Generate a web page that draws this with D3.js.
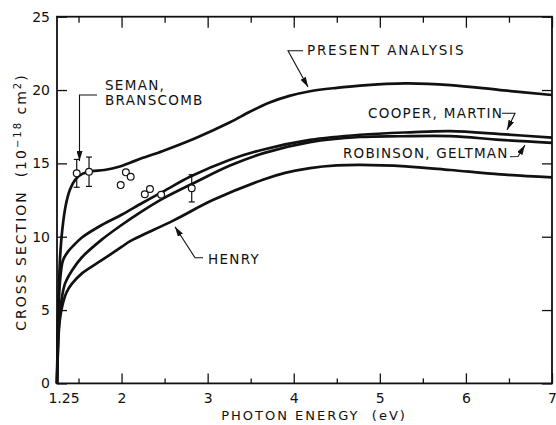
<!DOCTYPE html>
<html>
<head>
<meta charset="utf-8">
<script src="https://cdn.jsdelivr.net/npm/d3@7"></script>
<style>
  body { margin: 0; background: #fff; }
  svg { font-family: "DejaVu Sans", sans-serif; }
  text { fill: #111; }
</style>
</head>
<body>
<svg id="chart" width="556" height="425"></svg>
<script>
// photodetachment cross section curves, [photon energy eV, cross section 1e-18 cm2]
const presentAnalysis = [
    [1.25, 0], [1.258, 3], [1.27, 6], [1.285, 8.5], [1.31, 10.4], [1.35, 12.1],
    [1.40, 13.2], [1.47, 13.95], [1.55, 14.3], [1.65, 14.45], [1.8, 14.55],
    [1.97, 14.77], [2.1, 15.05], [2.24, 15.36], [2.48, 15.85], [2.87, 16.75],
    [3.26, 17.8], [3.5, 18.55], [3.72, 19.15], [3.95, 19.6], [4.19, 19.92],
    [4.5, 20.15], [4.77, 20.3], [5.3, 20.45], [5.82, 20.34], [6.4, 20.0], [7, 19.66]
];
const cooperMartin = [
    [1.25, 0], [1.258, 3], [1.27, 5.5], [1.29, 7.3], [1.32, 8.4], [1.38, 9.0],
    [1.45, 9.45], [1.54, 9.95], [1.77, 10.8], [2.0, 11.5], [2.24, 12.3],
    [2.48, 13.07], [2.8, 14.1], [3.26, 15.25], [3.65, 15.95], [4.19, 16.6],
    [4.77, 16.95], [5.35, 17.12], [5.82, 17.2], [6.4, 17.0], [7, 16.75]
];
const robinsonGeltman = [
    [1.25, 0], [1.262, 2.5], [1.275, 4.2], [1.3, 5.6], [1.343, 6.8], [1.424, 7.7],
    [1.54, 8.6], [1.77, 9.8], [2.0, 10.8], [2.24, 11.75], [2.48, 12.6],
    [2.87, 13.75], [3.26, 14.85], [3.65, 15.7], [4.19, 16.45], [4.77, 16.8],
    [5.23, 16.85], [5.82, 16.86], [6.4, 16.6], [7, 16.4]
];
const henry = [
    [1.25, 0], [1.262, 2.5], [1.28, 4.2], [1.308, 5.2], [1.36, 6.2], [1.424, 6.8],
    [1.54, 7.5], [1.77, 8.4], [2.0, 9.3], [2.1, 9.7], [2.6, 11.1], [3.06, 12.5],
    [3.65, 13.9], [3.9, 14.35], [4.19, 14.68], [4.5, 14.86], [4.77, 14.9],
    [5.3, 14.8], [5.82, 14.55], [6.4, 14.25], [7, 14.05]
];

// Seman & Branscomb measurements: [E, sigma, error or 0]
const semanBranscomb = [
    [1.479, 14.32, 0.95], [1.622, 14.43, 1.0], [2.05, 14.39, 0], [2.106, 14.09, 0],
    [1.99, 13.52, 0], [2.27, 12.9, 0], [2.33, 13.25, 0], [2.46, 12.86, 0],
    [2.815, 13.3, 0.93]
];

const xMajor = [2, 3, 4, 5, 6, 7];
const xMinor = [1.5, 2.5, 3.5, 4.5, 5.5, 6.5];
const yTicks = [0, 5, 10, 15, 20, 25];

const svg = d3.select('#chart');
const plotLeft = 57, plotRight = 552, plotTop = 16.7, plotBottom = 383.4;

const x = d3.scaleLinear().domain([1.25, 7]).range([plotLeft, plotRight]);
const y = d3.scaleLinear().domain([0, 25]).range([plotBottom, plotTop]);

// frame
svg.append('rect')
    .attr('x', plotLeft).attr('y', plotTop)
    .attr('width', plotRight - plotLeft).attr('height', plotBottom - plotTop)
    .attr('fill', 'none').attr('stroke', '#111').attr('stroke-width', 1.8);

function styleAxis(g) {
    g.select('.domain').remove();
    g.selectAll('line').attr('stroke', '#111').attr('stroke-width', 1.3);
    g.selectAll('text').attr('font-size', 14).attr('fill', '#111')
        .attr('font-family', '"DejaVu Sans", sans-serif');
}

// bottom axis
svg.append('g').attr('transform', `translate(0,${plotBottom})`)
    .call(d3.axisBottom(x).tickValues(xMajor).tickSize(-10).tickPadding(10).tickFormat(d3.format('d')))
    .call(styleAxis);
svg.append('g').attr('transform', `translate(0,${plotBottom})`)
    .call(d3.axisBottom(x).tickValues(xMinor).tickSize(-5).tickFormat(''))
    .call(styleAxis);
svg.append('text')
    .attr('x', x(1.25) + 7).attr('y', plotBottom + 20)
    .attr('text-anchor', 'middle').attr('font-size', 14)
    .text('1.25');

// top axis
svg.append('g').attr('transform', `translate(0,${plotTop})`)
    .call(d3.axisTop(x).tickValues(xMajor).tickSize(-11).tickFormat(''))
    .call(styleAxis);
svg.append('g').attr('transform', `translate(0,${plotTop})`)
    .call(d3.axisTop(x).tickValues(xMinor).tickSize(-6).tickFormat(''))
    .call(styleAxis);

// left / right axes
svg.append('g').attr('transform', `translate(${plotLeft},0)`)
    .call(d3.axisLeft(y).tickValues(yTicks).tickSize(-10).tickPadding(7))
    .call(styleAxis);
svg.append('g').attr('transform', `translate(${plotRight},0)`)
    .call(d3.axisRight(y).tickValues(yTicks).tickSize(-10).tickFormat(''))
    .call(styleAxis);

// axis titles
svg.append('text')
    .attr('x', 314).attr('y', 420)
    .attr('text-anchor', 'middle').attr('font-size', 13)
    .attr('letter-spacing', 2)
    .attr('xml:space', 'preserve')
    .text('PHOTON ENERGY  (eV)');

const yTitle = svg.append('text')
    .attr('transform', 'translate(26,202) rotate(-90)')
    .attr('text-anchor', 'middle').attr('font-size', 14)
    .attr('letter-spacing', 2)
    .attr('xml:space', 'preserve');
yTitle.append('tspan').text('CROSS SECTION  (10');
yTitle.append('tspan').attr('font-size', 10).attr('dy', -5).text('−18');
yTitle.append('tspan').attr('dy', 5).text(' cm');
yTitle.append('tspan').attr('font-size', 10).attr('dy', -5).text('2');
yTitle.append('tspan').attr('dy', 5).text(')');

// curves
const line = d3.line()
    .x(d => x(d[0]))
    .y(d => y(d[1]))
    .curve(d3.curveCatmullRom.alpha(0.5));

[presentAnalysis, cooperMartin, robinsonGeltman, henry].forEach(series => {
    svg.append('path')
        .datum(series)
        .attr('d', line)
        .attr('fill', 'none')
        .attr('stroke', '#111')
        .attr('stroke-width', 2.7)
        .attr('stroke-linejoin', 'round');
});

// measured points with error bars
const pts = svg.append('g');
semanBranscomb.filter(d => d[2] > 0).forEach(d => {
    const cx = x(d[0]);
    const yTop = y(d[1] + d[2]), yBot = y(d[1] - d[2]);
    pts.append('line').attr('x1', cx).attr('x2', cx).attr('y1', yTop).attr('y2', yBot)
        .attr('stroke', '#111').attr('stroke-width', 1.2);
    [yTop, yBot].forEach(yy => {
        pts.append('line').attr('x1', cx - 3).attr('x2', cx + 3).attr('y1', yy).attr('y2', yy)
            .attr('stroke', '#111').attr('stroke-width', 1.2);
    });
});
pts.selectAll('circle')
    .data(semanBranscomb)
    .enter()
    .append('circle')
    .attr('cx', d => x(d[0]))
    .attr('cy', d => y(d[1]))
    .attr('r', 3.4)
    .attr('fill', '#fff')
    .attr('stroke', '#111')
    .attr('stroke-width', 1.2);

// annotations
svg.append('defs').append('marker')
    .attr('id', 'arrow')
    .attr('viewBox', '0 0 10 6')
    .attr('refX', 10).attr('refY', 3)
    .attr('markerWidth', 10).attr('markerHeight', 6)
    .attr('markerUnits', 'userSpaceOnUse')
    .attr('orient', 'auto')
    .append('path')
    .attr('d', 'M0,0 L10,3 L0,6 Z')
    .attr('fill', '#111');

function leader(points) {
    svg.append('path')
        .attr('d', d3.line()(points))
        .attr('fill', 'none')
        .attr('stroke', '#111')
        .attr('stroke-width', 1.1)
        .attr('marker-end', 'url(#arrow)');
}

function label(text, lx, ly, spacing) {
    svg.append('text')
        .attr('x', lx).attr('y', ly)
        .attr('font-size', 13.5)
        .attr('letter-spacing', spacing || 1.3)
        .text(text);
}

label('PRESENT ANALYSIS', 307, 55, 1.8);
leader([[303, 50.7], [288, 50.7], [308, 87]]);

label('COOPER, MARTIN', 368, 118);
leader([[502, 113.3], [515, 113.3], [507, 130]]);

label('ROBINSON, GELTMAN', 343, 158, 1.2);
leader([[510, 156.7], [518, 156.5], [525, 145]]);

label('HENRY', 208, 264);
leader([[203, 257.7], [195, 257.7], [175, 226.7]]);

label('SEMAN,', 105, 90);
label('BRANSCOMB', 105, 105);
leader([[97, 95], [79.5, 95], [79.5, 161]]);
</script>
</body>
</html>
